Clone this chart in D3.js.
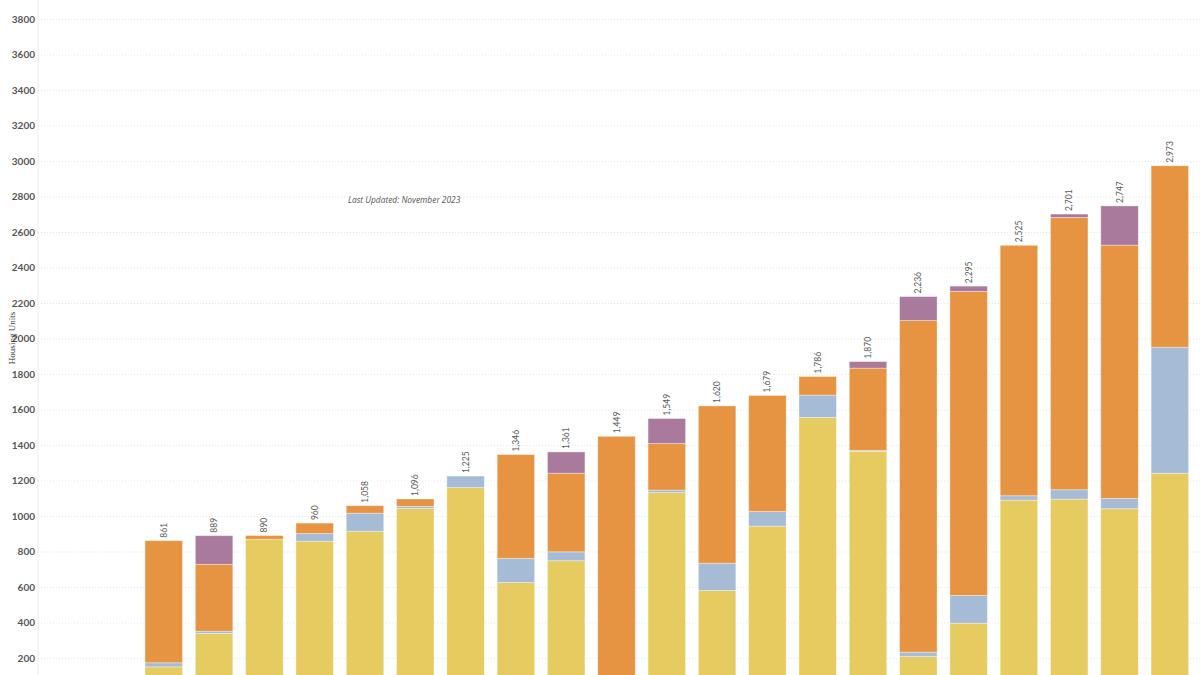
<!DOCTYPE html>
<html>
<head>
<meta charset="utf-8">
<script src="https://cdn.jsdelivr.net/npm/d3@7"></script>
<style>
  html, body { margin: 0; padding: 0; background: #fff; }
  svg { display: block; }
</style>
</head>
<body>
<svg id="chart"></svg>
<script>
// categories (first two years have no bars)
var years = ["2001","2002","2003","2004","2005","2006","2007","2008","2009","2010","2011","2012",
             "2013","2014","2015","2016","2017","2018","2019","2020","2021","2022","2023"];
var keys = ["yellow", "blue", "orange", "purple"];
// stacked series, bottom to top
var yellowVals = [0, 0, 150, 338, 869, 858, 914, 1042, 1160, 625, 748, 0, 1132, 580, 943, 1555, 1364, 208, 396, 1089, 1095, 1041, 1241];
var blueVals   = [0, 0, 23, 13, 0, 43, 102, 13, 65, 136, 50, 0, 14, 154, 82, 126, 5, 25, 156, 25, 53, 58, 710];
var orangeVals = [0, 0, 688, 377, 21, 59, 42, 41, 0, 585, 443, 1449, 262, 886, 654, 105, 464, 1868, 1713, 1411, 1534, 1427, 1022];
var purpleVals = [0, 0, 0, 161, 0, 0, 0, 0, 0, 0, 120, 0, 141, 0, 0, 0, 37, 135, 30, 0, 19, 221, 0];
var yTicks = [200, 400, 600, 800, 1000, 1200, 1400, 1600, 1800, 2000, 2200, 2400, 2600, 2800, 3000, 3200, 3400, 3600, 3800];
var yLabel = "Housing Units";
var note = "Last Updated: November 2023";

var colors = {yellow: "#e6cb60", blue: "#a5bbd6", orange: "#e69342", purple: "#a97a9c"};

var width = 1200, height = 675;
var marginLeft = 38, marginRight = 5;

var data = years.map(function(y, i) {
  return {year: y, yellow: yellowVals[i], blue: blueVals[i], orange: orangeVals[i], purple: purpleVals[i]};
});
data.forEach(function(d) { d.total = d.yellow + d.blue + d.orange + d.purple; });

var x = d3.scaleBand()
  .domain(years)
  .range([marginLeft, width - marginRight])
  .paddingInner(0.255)
  .paddingOuter(0.1275);

// zero sits just below the visible frame
var y = d3.scaleLinear()
  .domain([0, 3800])
  .range([693.5, 19]);

var svg = d3.select("#chart")
  .attr("width", width)
  .attr("height", height)
  .attr("viewBox", [0, 0, width, height]);

// gridlines + tick labels
var yAxis = d3.axisLeft(y).tickValues(yTicks).tickSize(0).tickPadding(3).tickFormat(d3.format("d"));
svg.append("g")
  .attr("transform", "translate(" + marginLeft + ",0)")
  .call(yAxis)
  .call(function(g) { g.select(".domain").remove(); })
  .call(function(g) {
    g.selectAll(".tick line").clone()
      .attr("x2", width - marginLeft)
      .attr("stroke", "#e6e6e6")
      .attr("stroke-dasharray", "1,2");
  })
  .call(function(g) {
    g.selectAll(".tick text")
      .attr("font-family", "Lato, 'Open Sans', sans-serif")
      .attr("font-weight", "bold")
      .attr("font-size", 10)
      .attr("fill", "#555");
  });

// faint axis rule
svg.append("line")
  .attr("x1", marginLeft).attr("x2", marginLeft)
  .attr("y1", 0).attr("y2", height)
  .attr("stroke", "#ececec");

var series = d3.stack().keys(keys)(data);

svg.append("g")
  .selectAll("g")
  .data(series)
  .join("g")
    .attr("fill", function(s) { return colors[s.key]; })
  .selectAll("rect")
  .data(function(s) { return s.filter(function(d) { return d[1] - d[0] > 0; }); })
  .join("rect")
    .attr("x", function(d) { return x(d.data.year); })
    .attr("width", x.bandwidth())
    .attr("y", function(d) { return y(d[1]); })
    .attr("height", function(d) { return y(d[0]) - y(d[1]); })
    .attr("stroke", "#fff")
    .attr("stroke-opacity", 0.45)
    .attr("stroke-width", 0.8);

// totals, rotated above each bar
svg.append("g")
  .selectAll("text")
  .data(data.filter(function(d) { return d.total > 0; }))
  .join("text")
    .attr("transform", function(d) {
      return "translate(" + (x(d.year) + x.bandwidth() / 2 + 3) + "," + (y(d.total) - 3) + ") rotate(-90)";
    })
    .attr("text-anchor", "start")
    .attr("font-family", "Lato, 'Open Sans', sans-serif")
    .attr("font-size", 8.5)
    .attr("fill", "#5a5a5a")
    .text(function(d) { return d3.format(",")(d.total); });

// axis title
svg.append("text")
  .attr("transform", "translate(15,338) rotate(-90)")
  .attr("text-anchor", "middle")
  .attr("font-family", "'Liberation Serif', 'DejaVu Serif', serif")
  .attr("font-size", 9)
  .attr("fill", "#333")
  .text(yLabel);

svg.append("text")
  .attr("x", 348)
  .attr("y", 203)
  .attr("font-family", "'Open Sans', Lato, sans-serif")
  .attr("font-style", "italic")
  .attr("font-size", 8.4)
  .attr("fill", "#555")
  .text(note);
</script>
</body>
</html>
